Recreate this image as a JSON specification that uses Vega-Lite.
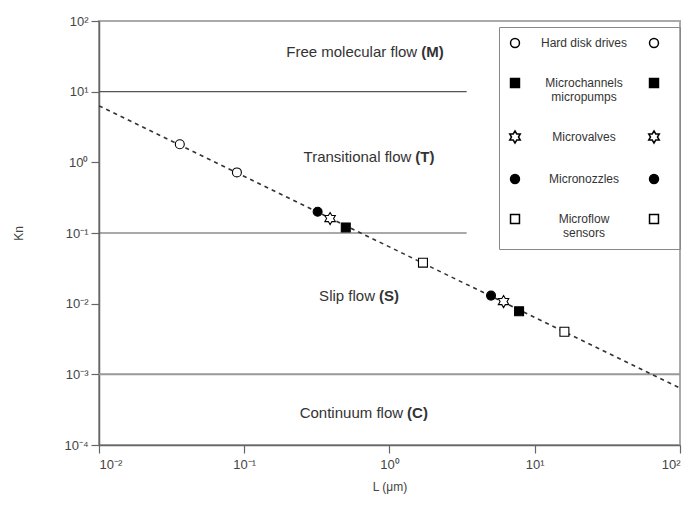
{
  "$schema": "https://vega.github.io/schema/vega-lite/v6.json",
  "width": 581,
  "height": 424,
  "autosize": "none",
  "padding": {"left": 99, "top": 21, "right": 14, "bottom": 63},
  "background": "white",
  "config": {
    "font": "Liberation Sans",
    "view": {"stroke": "#aaa", "strokeWidth": 2},
    "axis": {
      "grid": false,
      "domainColor": "#666",
      "domainWidth": 1.5,
      "tickColor": "#666",
      "tickWidth": 1.2,
      "tickSize": 8,
      "labelColor": "#444",
      "labelFontSize": 13,
      "titleColor": "#444",
      "titleFontSize": 12,
      "titleFontWeight": "normal"
    }
  },
  "datasets": {
    "points": [
      {"device": "Hard disk drives", "L": 0.036, "Kn": 1.8},
      {"device": "Hard disk drives", "L": 0.089, "Kn": 0.72},
      {"device": "Microchannels micropumps", "L": 0.5, "Kn": 0.12},
      {"device": "Microchannels micropumps", "L": 7.8, "Kn": 0.0078},
      {"device": "Microvalves", "L": 0.39, "Kn": 0.16},
      {"device": "Microvalves", "L": 6.1, "Kn": 0.0107},
      {"device": "Micronozzles", "L": 0.32, "Kn": 0.2},
      {"device": "Micronozzles", "L": 5.0, "Kn": 0.013},
      {"device": "Microflow sensors", "L": 1.7, "Kn": 0.038},
      {"device": "Microflow sensors", "L": 16, "Kn": 0.004}
    ],
    "fit": [{"L": 0.01, "Kn": 6.3}, {"L": 100, "Kn": 0.00064}],
    "bounds": [{"Kn": 10, "L": 0.01, "L2": 3.4}, {"Kn": 0.1, "L": 0.01, "L2": 3.4}],
    "continuum": [{"Kn": 0.001, "L": 0.01, "L2": 100}],
    "regions": [
      {"name": "Free molecular flow", "letter": "(M)", "L": 1.6, "Kn": 36},
      {"name": "Transitional flow", "letter": "(T)", "L": 1.46, "Kn": 1.2},
      {"name": "Slip flow", "letter": "(S)", "L": 0.82, "Kn": 0.0128},
      {"name": "Continuum flow", "letter": "(C)", "L": 1.28, "Kn": 0.00028}
    ]
  },
  "resolve": {
    "scale": {"shape": "independent", "fill": "independent"},
    "legend": {"shape": "independent", "fill": "independent"}
  },
  "layer": [
    {
      "data": {"name": "bounds"},
      "mark": {"type": "rule", "color": "#555", "strokeWidth": 1.2},
      "encoding": {
        "x": {"field": "L", "type": "quantitative", "scale": {"type": "log", "domain": [0.01, 100]},
          "axis": {"title": "L (μm)", "values": [0.01, 0.1, 1, 10, 100], "labelPadding": 5, "titlePadding": 10,
            "labelExpr": "datum.value < 0.05 ? '10⁻²' : datum.value < 0.5 ? '10⁻¹' : datum.value < 5 ? '10⁰' : datum.value < 50 ? '10¹' : '10²'"}},
        "x2": {"field": "L2"},
        "y": {"field": "Kn", "type": "quantitative", "scale": {"type": "log", "domain": [0.0001, 100]},
          "axis": {"title": "Kn", "values": [0.0001, 0.001, 0.01, 0.1, 1, 10, 100], "labelPadding": 3, "titlePadding": 38,
            "labelExpr": "datum.value < 0.0005 ? '10⁻⁴' : datum.value < 0.005 ? '10⁻³' : datum.value < 0.05 ? '10⁻²' : datum.value < 0.5 ? '10⁻¹' : datum.value < 5 ? '10⁰' : datum.value < 50 ? '10¹' : '10²'"}}
      }
    },
    {
      "data": {"name": "continuum"},
      "mark": {"type": "rule", "color": "#999", "strokeWidth": 2},
      "encoding": {
        "x": {"field": "L", "type": "quantitative"},
        "x2": {"field": "L2"},
        "y": {"field": "Kn", "type": "quantitative"}
      }
    },
    {
      "data": {"name": "fit"},
      "mark": {"type": "line", "color": "#333", "strokeWidth": 1.6, "strokeDash": [4, 4]},
      "encoding": {
        "x": {"field": "L", "type": "quantitative"},
        "y": {"field": "Kn", "type": "quantitative"}
      }
    },
    {
      "data": {"name": "regions"},
      "mark": {"type": "text", "align": "right", "baseline": "middle", "dx": -2, "fontSize": 15, "color": "#333"},
      "encoding": {
        "x": {"field": "L", "type": "quantitative"},
        "y": {"field": "Kn", "type": "quantitative"},
        "text": {"field": "name"}
      }
    },
    {
      "data": {"name": "regions"},
      "mark": {"type": "text", "align": "left", "baseline": "middle", "dx": 2, "fontSize": 15, "fontWeight": "bold", "color": "#333"},
      "encoding": {
        "x": {"field": "L", "type": "quantitative"},
        "y": {"field": "Kn", "type": "quantitative"},
        "text": {"field": "letter"}
      }
    },
    {
      "data": {"name": "points"},
      "mark": {"type": "point", "filled": true, "size": 80, "stroke": "black", "strokeWidth": 1.1, "opacity": 1},
      "encoding": {
        "x": {"field": "L", "type": "quantitative"},
        "y": {"field": "Kn", "type": "quantitative"},
        "shape": {"field": "device", "type": "nominal",
          "scale": {"domain": ["Hard disk drives", "Microchannels micropumps", "Microvalves", "Micronozzles", "Microflow sensors"],
            "range": ["circle", "square", "M0,-1.35L0.39,-0.675L1.17,-0.675L0.78,0L1.17,0.675L0.39,0.675L0,1.35L-0.39,0.675L-1.17,0.675L-0.78,0L-1.17,-0.675L-0.39,-0.675Z", "circle", "square"]},
          "legend": {"title": null, "orient": "none", "legendX": 400, "legendY": 6, "strokeColor": "#888", "padding": 10, "rowPadding": 24,
            "labelFontSize": 12, "labelOpacity": 0, "symbolSize": 80, "labelOffset": 145, "labelAlign": "left", "labelLimit": 400,
            "labelExpr": "(datum.label == 'Microchannels micropumps' || datum.label == 'Microflow sensors') ? ['.', '.'] : '.'",
            "encode": {"symbols": {"update": {"stroke": {"value": "black"}, "strokeWidth": {"value": 1.1}}}}}},
        "fill": {"field": "device", "type": "nominal",
          "scale": {"domain": ["Hard disk drives", "Microchannels micropumps", "Microvalves", "Micronozzles", "Microflow sensors"],
            "range": ["white", "black", "white", "black", "white"]},
          "legend": {"title": null, "orient": "none", "legendX": 400, "legendY": 6, "strokeColor": "#888", "padding": 10, "rowPadding": 24,
            "labelFontSize": 12, "labelOpacity": 0, "symbolSize": 80, "labelOffset": 145, "labelAlign": "left", "labelLimit": 400,
            "labelExpr": "(datum.label == 'Microchannels micropumps' || datum.label == 'Microflow sensors') ? ['.', '.'] : '.'",
            "encode": {"symbols": {"update": {"stroke": {"value": "black"}, "strokeWidth": {"value": 1.1}}}}}}
      }
    },
    {
      "data": {"name": "points"},
      "mark": {"type": "point", "filled": true, "size": 80, "stroke": "black", "strokeWidth": 1.1, "opacity": 0},
      "encoding": {
        "x": {"field": "L", "type": "quantitative"},
        "y": {"field": "Kn", "type": "quantitative"},
        "shape": {"field": "device", "type": "nominal",
          "scale": {"domain": ["Hard disk drives", "Microchannels micropumps", "Microvalves", "Micronozzles", "Microflow sensors"],
            "range": ["circle", "square", "M0,-1.35L0.39,-0.675L1.17,-0.675L0.78,0L1.17,0.675L0.39,0.675L0,1.35L-0.39,0.675L-1.17,0.675L-0.78,0L-1.17,-0.675L-0.39,-0.675Z", "circle", "square"]},
          "legend": {"title": null, "orient": "none", "legendX": 549, "legendY": 16, "padding": 0, "rowPadding": 24,
            "labelFontSize": 12, "labelColor": "#333", "symbolSize": 80, "symbolOpacity": 1, "labelOffset": -76, "labelAlign": "center", "labelLimit": 200,
            "labelExpr": "datum.label == 'Microchannels micropumps' ? ['Microchannels', 'micropumps'] : datum.label == 'Microflow sensors' ? ['Microflow', 'sensors'] : datum.label",
            "encode": {"symbols": {"update": {"stroke": {"value": "black"}, "strokeWidth": {"value": 1.1}, "opacity": {"value": 1}}}}}},
        "fill": {"field": "device", "type": "nominal",
          "scale": {"domain": ["Hard disk drives", "Microchannels micropumps", "Microvalves", "Micronozzles", "Microflow sensors"],
            "range": ["white", "black", "white", "black", "white"]},
          "legend": {"title": null, "orient": "none", "legendX": 549, "legendY": 16, "padding": 0, "rowPadding": 24,
            "labelFontSize": 12, "labelColor": "#333", "symbolSize": 80, "symbolOpacity": 1, "labelOffset": -76, "labelAlign": "center", "labelLimit": 200,
            "labelExpr": "datum.label == 'Microchannels micropumps' ? ['Microchannels', 'micropumps'] : datum.label == 'Microflow sensors' ? ['Microflow', 'sensors'] : datum.label",
            "encode": {"symbols": {"update": {"stroke": {"value": "black"}, "strokeWidth": {"value": 1.1}, "opacity": {"value": 1}}}}}}
      }
    }
  ]
}
